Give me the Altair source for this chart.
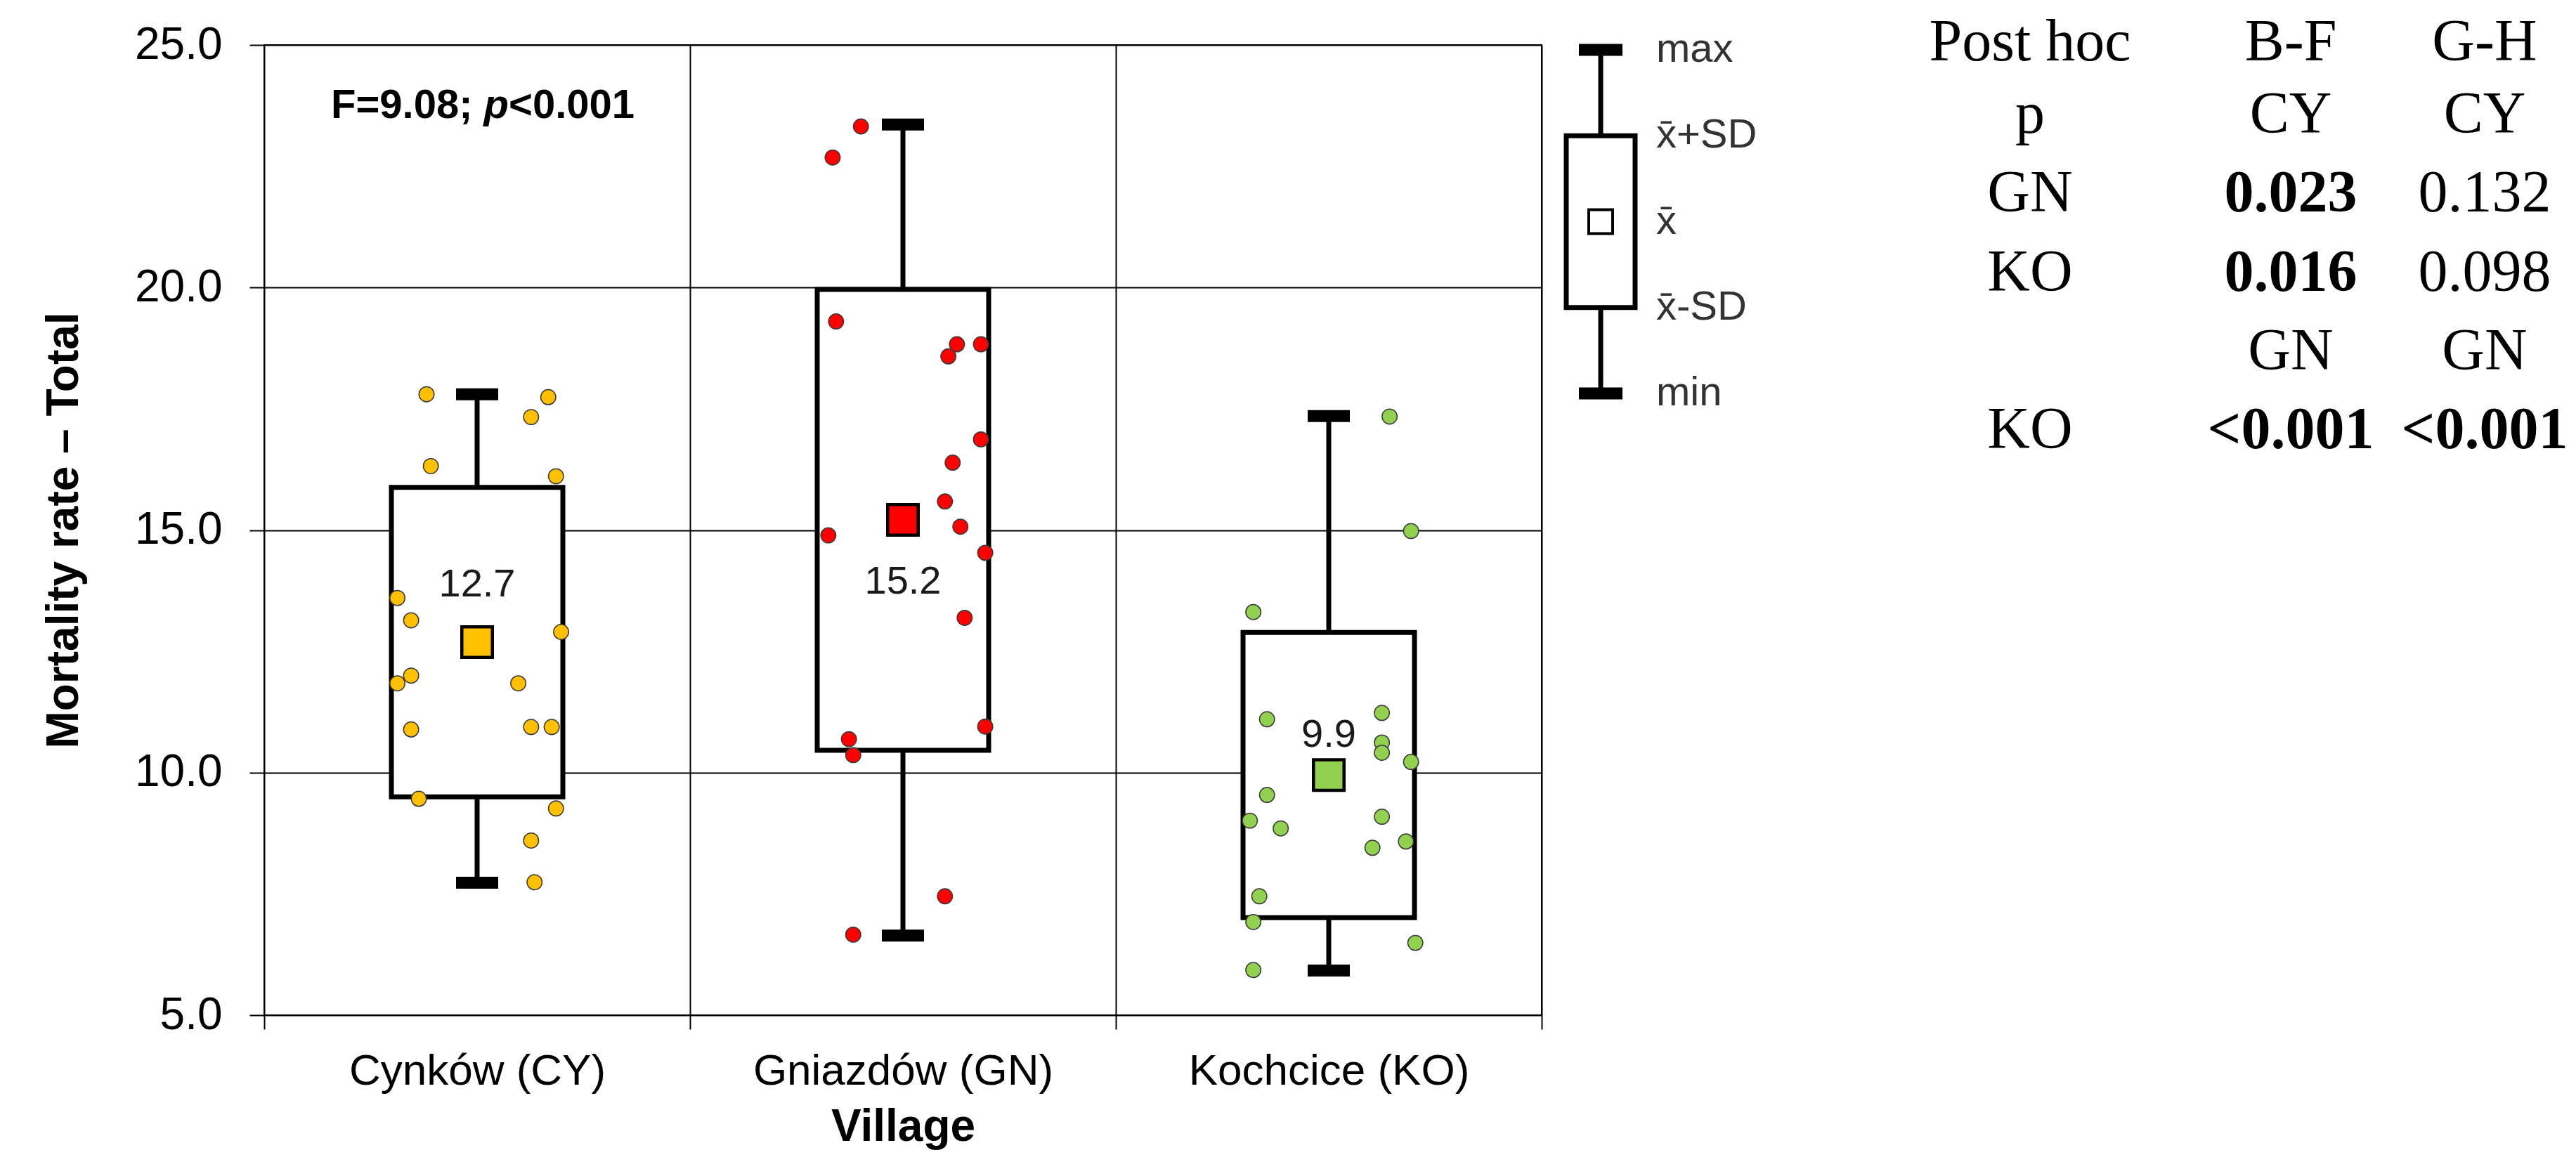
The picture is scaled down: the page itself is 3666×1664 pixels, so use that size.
import altair as alt
import pandas as pd

# ---------------- data ----------------
villages = ["Cynków (CY)", "Gniazdów (GN)", "Kochcice (KO)"]
colors = ["#FFC000", "#FF0000", "#92D050"]
means = [12.69, 15.21, 9.95]
sds = [3.19, 4.75, 2.94]
mins = [7.73, 6.64, 5.92]
maxs = [17.80, 23.36, 17.35]

cy_values = [17.80, 17.74, 17.33, 16.32, 16.11, 13.60, 13.14, 12.90, 12.00,
             11.84, 11.84, 10.89, 10.94, 10.94, 9.46, 9.26, 8.60, 7.74]
cy_jitter = [-0.59, 0.83, 0.63, -0.54, 0.92, -0.93, -0.77, 0.98, -0.77,
             -0.93, 0.48, -0.77, 0.63, 0.87, -0.68, 0.92, 0.63, 0.67]
gn_values = [23.32, 22.68, 19.30, 18.83, 18.83, 18.58, 16.87, 16.39, 15.59,
             15.07, 14.89, 14.53, 13.19, 10.95, 10.69, 10.36, 7.45, 6.66]
gn_jitter = [-0.49, -0.82, -0.78, 0.63, 0.91, 0.53, 0.91, 0.58, 0.49,
             0.67, -0.87, 0.96, 0.72, 0.96, -0.63, -0.58, 0.49, -0.58]
ko_values = [17.34, 14.98, 13.31, 11.23, 11.10, 10.62, 10.41, 10.22, 9.54,
             9.09, 9.01, 8.85, 8.58, 8.45, 7.45, 6.92, 6.49, 5.93]
ko_jitter = [0.71, 0.96, -0.88, 0.62, -0.72, 0.62, 0.62, 0.96, -0.72,
             0.62, -0.92, -0.56, 0.90, 0.51, -0.81, -0.88, 1.01, -0.88]

y_ticks = [5, 10, 15, 20, 25]
stat_parts = ["F=9.08; ", "p", "<0.001"]

legend_levels = [4, 3, 2, 1, 0]
legend_labels = ["max", "x\u0304+SD", "x\u0304", "x\u0304-SD", "min"]

table_rows = [
    ["Post hoc", "B-F", "G-H"],
    ["p", "CY", "CY"],
    ["GN", "0.023", "0.132"],
    ["KO", "0.016", "0.098"],
    ["", "GN", "GN"],
    ["KO", "<0.001", "<0.001"],
]
table_bold = [
    [0, 0, 0],
    [0, 0, 0],
    [0, 1, 0],
    [0, 1, 0],
    [0, 0, 0],
    [0, 1, 1],
]

# ---------------- tables ----------------
summary = pd.DataFrame({
    "village": villages,
    "mean": means,
    "lo": [m - s for m, s in zip(means, sds)],
    "hi": [m + s for m, s in zip(means, sds)],
    "min": mins,
    "max": maxs,
})
points = pd.DataFrame({
    "village": [villages[0]] * len(cy_values) + [villages[1]] * len(gn_values) + [villages[2]] * len(ko_values),
    "value": cy_values + gn_values + ko_values,
    "jit": cy_jitter + gn_jitter + ko_jitter,
})

# ---------------- style ----------------
FONT = "Liberation Sans"
W, H = 1818, 1381
BOX_W = 244
HALF = BOX_W / 2
BAND = W / 3
JDOM = (BAND / 2) / HALF
YTITLE = "Mortality rate \u2013 Total"

x_axis = alt.Axis(
    title="Village", titleFontSize=64, titleFontWeight="bold", titleColor="black",
    titlePadding=17, titleFont=FONT,
    labelFontSize=62, labelColor="black", labelPadding=29, labelAngle=0, labelFont=FONT,
    labelLimit=2000,
    tickBand="extent", tickSize=20, tickWidth=2, tickColor="black",
    grid=True, gridColor="black", gridWidth=2, gridOpacity=1, domain=False,
)
y_axis = alt.Axis(
    title=YTITLE, values=y_ticks, format=".1f",
    titleFontSize=64, titleFontWeight="bold", titleColor="black", titlePadding=68, titleFont=FONT,
    labelFontSize=64, labelColor="black", labelPadding=39, labelFont=FONT,
    tickSize=21, tickWidth=2, tickColor="black",
    grid=True, gridColor="black", gridWidth=2, gridOpacity=1, domain=False,
)
x_scale = alt.Scale(domain=villages, paddingInner=0, paddingOuter=0)
y_scale = alt.Scale(domain=[5, 25], nice=False, zero=False)


def X():
    return alt.X("village:N", sort=villages, scale=x_scale, axis=x_axis)


def Y(field):
    return alt.Y(f"{field}:Q", scale=y_scale, axis=y_axis, title=YTITLE)


color = alt.Color("village:N", scale=alt.Scale(domain=villages, range=colors), legend=None)

base = alt.Chart(summary)
whisk_lo = base.mark_rule(color="black", strokeWidth=7).encode(x=X(), y=Y("min"), y2="lo:Q")
whisk_hi = base.mark_rule(color="black", strokeWidth=7).encode(x=X(), y=Y("hi"), y2="max:Q")
cap_lo = base.mark_tick(color="black", size=60, thickness=17, opacity=1).encode(x=X(), y=Y("min"))
cap_hi = base.mark_tick(color="black", size=60, thickness=17, opacity=1).encode(x=X(), y=Y("max"))
box = base.mark_bar(size=BOX_W, fill="white", stroke="black", strokeWidth=7).encode(
    x=X(), y=Y("lo"), y2="hi:Q")

dots = alt.Chart(points).mark_circle(size=460, opacity=1, stroke="#3a3a3a", strokeWidth=1.5).encode(
    x=X(),
    xOffset=alt.XOffset("jit:Q", scale=alt.Scale(domain=[-JDOM, JDOM], range=[0, BAND], nice=False, zero=False)),
    y=Y("value"),
    color=color,
)
mean_sq = base.mark_square(size=1890, opacity=1, stroke="black", strokeWidth=4.5).encode(
    x=X(), y=Y("mean"), color=color)

label_dy = {villages[0]: -82, villages[1]: 88, villages[2]: -57}
mean_labels = [
    base.transform_filter(alt.datum.village == v).mark_text(
        fontSize=56, font=FONT, color="#1a1a1a", baseline="middle", dy=d
    ).encode(x=X(), y=Y("mean"), text=alt.Text("mean:Q", format=".1f"))
    for v, d in label_dy.items()
]

ann_x = [95, 95 + 3.752 * 58, 95 + 3.752 * 58 + 0.611 * 58]
ann_style = [{}, {"fontStyle": "italic"}, {}]
annots = [
    alt.Chart(pd.DataFrame({"t": [t]})).mark_text(
        align="left", baseline="alphabetic", fontSize=58, fontWeight="bold", font=FONT,
        color="black", **st
    ).encode(x=alt.value(ax), y=alt.value(104), text="t:N")
    for t, ax, st in zip(stat_parts, ann_x, ann_style)
]

main = alt.layer(whisk_lo, whisk_hi, cap_lo, cap_hi, box, dots, mean_sq, *mean_labels, *annots).properties(
    width=W, height=H, view=alt.ViewBackground(stroke="black", strokeWidth=2)
)

# ---------------- legend panel ----------------
ly_scale = alt.Scale(domain=[0, 4], range=[496, 7], nice=False, zero=False)
lg = pd.DataFrame({"lvl": legend_levels, "label": legend_labels})
lg_whisk = alt.Chart(pd.DataFrame({"a": [0, 3], "b": [1, 4]})).mark_rule(color="black", strokeWidth=7).encode(
    x=alt.value(81), y=alt.Y("a:Q", scale=ly_scale, axis=None), y2="b:Q")
lg_caps = alt.Chart(pd.DataFrame({"a": [0, 4]})).mark_rule(color="black", strokeWidth=17).encode(
    x=alt.value(50), x2=alt.value(112), y=alt.Y("a:Q", scale=ly_scale, axis=None))
lg_box = alt.Chart(pd.DataFrame({"a": [1], "b": [3]})).mark_rect(fill="white", stroke="black", strokeWidth=7).encode(
    x=alt.value(32), x2=alt.value(130), y=alt.Y("a:Q", scale=ly_scale, axis=None), y2="b:Q")
lg_sq = alt.Chart(pd.DataFrame({"a": [2]})).mark_square(size=1156, opacity=1, fill="white", stroke="black", strokeWidth=4).encode(
    x=alt.value(81), y=alt.Y("a:Q", scale=ly_scale, axis=None))
lg_txt = alt.Chart(lg).mark_text(align="left", baseline="middle", fontSize=58, font=FONT, color="#333333").encode(
    x=alt.value(160), y=alt.Y("lvl:Q", scale=ly_scale, axis=None), text="label:N")
legend_panel = alt.layer(lg_whisk, lg_caps, lg_box, lg_sq, lg_txt).properties(
    width=500, height=500, view=alt.ViewBackground(stroke="transparent"))

# ---------------- table panel ----------------
cells = pd.DataFrame([
    {"row": r, "col": c, "txt": table_rows[r][c], "bold": table_bold[r][c]}
    for r in range(len(table_rows)) for c in range(3) if table_rows[r][c]
])
tx = alt.X("col:Q", scale=alt.Scale(domain=[0, 1, 2], range=[190, 561, 837]), axis=None)
ty = alt.Y("row:Q", scale=alt.Scale(domain=[0, 1, 5], range=[22, 125, 574]), axis=None)
t_norm = alt.Chart(cells).transform_filter(alt.datum.bold == 0).mark_text(
    font="Liberation Serif", fontSize=84, align="center", baseline="alphabetic", color="black"
).encode(x=tx, y=ty, text="txt:N")
t_bold = alt.Chart(cells).transform_filter(alt.datum.bold == 1).mark_text(
    font="Liberation Serif", fontSize=84, fontWeight="bold", align="center", baseline="alphabetic", color="black"
).encode(x=tx, y=ty, text="txt:N")
table_panel = alt.layer(t_norm, t_bold).properties(
    width=930, height=600, view=alt.ViewBackground(stroke="transparent"))

chart = alt.hconcat(main, legend_panel, table_panel, spacing=0).properties(
    padding={"left": 50, "top": 10, "right": 0, "bottom": 0}
).configure(font=FONT, background="white")

chart.save("out.html", embed_options={"renderer": "svg", "actions": False})
